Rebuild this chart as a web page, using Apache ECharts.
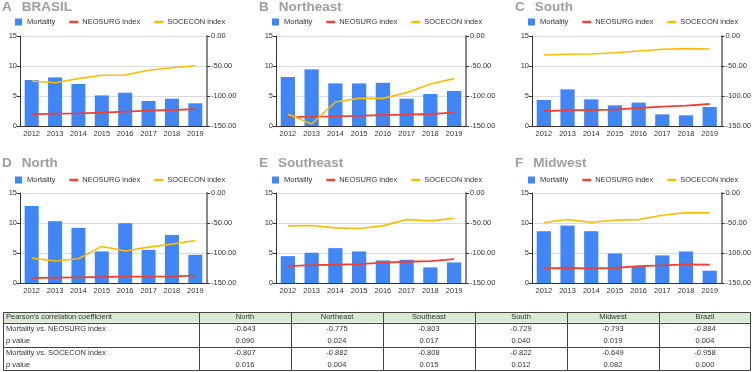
<!DOCTYPE html>
<html>
<head>
<meta charset="utf-8">
<script src="https://cdn.jsdelivr.net/npm/echarts@6/dist/echarts.min.js"></script>
<style>
html,body{margin:0;padding:0;background:#fff;}
#chart{width:754px;height:372px;}
</style>
</head>
<body>
<div id="chart"></div>
<script>
const years = ['2012', '2013', '2014', '2015', '2016', '2017', '2018', '2019'];
const panelLetters = ['A', 'B', 'C', 'D', 'E', 'F'];
const panelNames = ['BRASIL', 'Northeast', 'South', 'North', 'Southeast', 'Midwest'];
const seriesNames = ['Mortality', 'NEOSURG index', 'SOCECON index'];

const mortalityBrasil = [7.67, 8.10, 7.00, 5.10, 5.55, 4.17, 4.55, 3.78];
const neosurgBrasil = [-130.5, -129.4, -129.0, -127.8, -126.0, -124.4, -123.3, -122.0];
const soceconBrasil = [-75.0, -77.8, -71.0, -65.5, -65.0, -57.0, -53.0, -49.5];

const mortalityNortheast = [8.17, 9.44, 7.10, 7.10, 7.20, 4.55, 5.33, 5.83];
const neosurgNortheast = [-135.5, -134.4, -134.0, -133.0, -131.7, -131.0, -130.0, -127.8];
const soceconNortheast = [-130.5, -146.7, -110.0, -104.0, -104.0, -94.4, -80.0, -71.0];

const mortalitySouth = [4.33, 6.10, 4.44, 3.44, 3.90, 1.94, 1.78, 3.17];
const neosurgSouth = [-125.0, -124.0, -123.3, -122.8, -120.0, -117.8, -116.0, -113.3];
const soceconSouth = [-31.7, -30.5, -30.0, -27.8, -25.0, -22.2, -21.0, -21.7];

const mortalityNorth = [12.84, 10.30, 9.19, 5.26, 9.96, 5.53, 8.02, 4.70];
const neosurgNorth = [-141.7, -141.0, -140.5, -140.0, -139.4, -139.4, -138.8, -137.8];
const soceconNorth = [-108.5, -113.4, -109.6, -89.0, -96.8, -90.2, -85.2, -79.1];

const mortalitySoutheast = [4.48, 5.04, 5.81, 5.26, 3.76, 3.87, 2.60, 3.43];
const neosurgSoutheast = [-121.8, -120.1, -119.6, -118.5, -116.2, -114.6, -113.5, -110.2];
const soceconSoutheast = [-54.8, -54.2, -58.1, -59.2, -54.8, -44.3, -46.5, -42.1];

const mortalityMidwest = [8.63, 9.57, 8.63, 4.93, 2.82, 4.60, 5.26, 2.05];
const neosurgMidwest = [-125.6, -125.0, -125.6, -125.0, -121.8, -120.7, -119.0, -119.6];
const soceconMidwest = [-49.3, -44.3, -48.7, -45.4, -44.3, -37.1, -32.7, -33.2];

const leftTicks = [0, 5, 10, 15];
const rightTicks = [-150, -100, -50, 0];

const tableHeader = "Pearson's correlation coefficient";
const tableColumns = ['North', 'Northeast', 'Southeast', 'South', 'Midwest', 'Brazil'];
const rowLabels = ['Mortality vs. NEOSURG index', 'p value', 'Mortality vs. SOCECON index', 'p value'];
const rNeosurg = ['-0.643', '-0.775', '-0.803', '-0.729', '-0.793', '-0.884'];
const pNeosurg = ['0.090', '0.024', '0.017', '0.040', '0.019', '0.004'];
const rSocecon = ['-0.807', '-0.882', '-0.808', '-0.822', '-0.649', '-0.958'];
const pSocecon = ['0.016', '0.004', '0.015', '0.012', '0.082', '0.000'];

const mortality = [mortalityBrasil, mortalityNortheast, mortalitySouth, mortalityNorth, mortalitySoutheast, mortalityMidwest];
const neosurg = [neosurgBrasil, neosurgNortheast, neosurgSouth, neosurgNorth, neosurgSoutheast, neosurgMidwest];
const socecon = [soceconBrasil, soceconNortheast, soceconSouth, soceconNorth, soceconSoutheast, soceconMidwest];
const tableRows = [rNeosurg, pNeosurg, rSocecon, pSocecon];

// layout
const FONT = "'Liberation Sans', Arial, sans-serif";
const gridLefts = [20, 276, 532];
const gridWidths = [187, 190, 190];
const gridTops = [36, 193];
const gridHeight = 90;
const titleLefts = [2, 259, 515];
const titleTops = [0, 156];
const legendLefts = [15, 272, 528];
const legendTops = [18, 176];
const BLUE = '#4285f4', RED = '#ea4335', YELLOW = '#fbbc04';

const option = {
  animation: false,
  backgroundColor: '#fff',
  textStyle: { fontFamily: FONT },
  title: [], legend: [], grid: [], xAxis: [], yAxis: [], series: [],
  graphic: []
};

for (let i = 0; i < 6; i++) {
  const row = Math.floor(i / 3), col = i % 3;
  option.title.push({
    left: titleLefts[col], top: titleTops[row], padding: 0,
    text: '{l|' + panelLetters[i] + '}{n|' + panelNames[i] + '}',
    textStyle: {
      rich: {
        l: { fontSize: 13.5, fontWeight: 'bold', color: '#9e9e9e', fontFamily: FONT, padding: [0, 10, 0, 0] },
        n: { fontSize: 13.5, fontWeight: 'bold', color: '#9e9e9e', fontFamily: FONT }
      }
    }
  });
  option.legend.push({
    left: legendLefts[col], top: legendTops[row], padding: 0,
    itemWidth: 9, itemHeight: 7, itemGap: 14,
    selectedMode: false,
    textStyle: { fontSize: 7.5, color: '#333', fontFamily: FONT, padding: [0, 0, 0, -1] },
    data: [
      { name: seriesNames[0], icon: 'path://M0,0h7v7h-7z', itemStyle: { color: BLUE } },
      { name: seriesNames[1], icon: 'path://M0,0h9v2.5h-9z', itemStyle: { color: RED } },
      { name: seriesNames[2], icon: 'path://M0,0h9v2.5h-9z', itemStyle: { color: YELLOW } }
    ]
  });
  option.grid.push({ left: gridLefts[col], top: gridTops[row], width: gridWidths[col], height: gridHeight });
  option.xAxis.push({
    type: 'category', gridIndex: i, data: years, boundaryGap: true,
    axisLine: { lineStyle: { color: '#333', width: 1 } },
    axisTick: { show: false },
    axisLabel: { fontSize: 7.5, color: '#333', margin: 4, fontFamily: FONT, interval: 0 },
    splitLine: { show: false }
  });
  option.yAxis.push({
    type: 'value', gridIndex: i, min: leftTicks[0], max: leftTicks[leftTicks.length - 1], interval: 5,
    axisLine: { show: true, lineStyle: { color: '#333', width: 1 } },
    axisTick: { show: true, length: 3, lineStyle: { color: '#333' } },
    axisLabel: { fontSize: 7.5, color: '#333', margin: 3, fontFamily: FONT },
    splitLine: { show: true, lineStyle: { color: '#dcdcdc', width: 1 } }
  });
  option.yAxis.push({
    type: 'value', gridIndex: i, position: 'right',
    min: rightTicks[0], max: rightTicks[rightTicks.length - 1], interval: 50,
    axisLine: { show: true, lineStyle: { color: '#888', width: 2 } },
    axisTick: { show: true, length: 3, lineStyle: { color: '#333' } },
    axisLabel: { fontSize: 7.5, color: '#333', margin: 4, fontFamily: FONT, formatter: v => v.toFixed(2) },
    splitLine: { show: false }
  });
  option.series.push({
    name: seriesNames[0], type: 'bar', xAxisIndex: i, yAxisIndex: 2 * i,
    data: mortality[i], barWidth: '60%', itemStyle: { color: BLUE }
  });
  option.series.push({
    name: seriesNames[1], type: 'line', xAxisIndex: i, yAxisIndex: 2 * i + 1,
    data: neosurg[i], symbol: 'none', lineStyle: { color: RED, width: 1.8 }, itemStyle: { color: RED }
  });
  option.series.push({
    name: seriesNames[2], type: 'line', xAxisIndex: i, yAxisIndex: 2 * i + 1,
    data: socecon[i], symbol: 'none', lineStyle: { color: YELLOW, width: 1.6 }, itemStyle: { color: YELLOW }
  });
}

// table
const tLeft = 3, tRight = 751, firstColRight = 199;
const rowEdges = [312, 322.5, 335, 347, 359, 371];
const colW = (tRight - firstColRight) / tableColumns.length;
const border = '#444';
const g = option.graphic;
g.push({ type: 'rect', shape: { x: tLeft, y: rowEdges[0], width: tRight - tLeft, height: rowEdges[1] - rowEdges[0] }, style: { fill: '#d9ead3' }, silent: true });
g.push({ type: 'rect', shape: { x: tLeft + 0.5, y: rowEdges[0] + 0.5, width: tRight - tLeft - 1, height: rowEdges[5] - rowEdges[0] - 1 }, style: { fill: 'none', stroke: border, lineWidth: 1 }, silent: true });
[1, 3].forEach(k => {
  g.push({ type: 'line', shape: { x1: tLeft, y1: Math.round(rowEdges[k]) + 0.5, x2: tRight, y2: Math.round(rowEdges[k]) + 0.5 }, style: { stroke: border, lineWidth: 1 }, silent: true });
});
for (let c = 0; c < tableColumns.length; c++) {
  const x = Math.round(firstColRight + c * colW) + 0.5;
  g.push({ type: 'line', shape: { x1: x, y1: rowEdges[0], x2: x, y2: rowEdges[5] }, style: { stroke: border, lineWidth: 1 }, silent: true });
}
const txt = (x, y, s, align) => ({
  type: 'text', x: x, y: y, silent: true,
  style: { text: s, fill: '#333', font: '7.5px ' + FONT, align: align, verticalAlign: 'middle' }
});
g.push(txt(6, (rowEdges[0] + rowEdges[1]) / 2, tableHeader, 'left'));
tableColumns.forEach((name, c) => {
  g.push(txt(firstColRight + (c + 0.5) * colW, (rowEdges[0] + rowEdges[1]) / 2, name, 'center'));
});
rowLabels.forEach((lab, r) => {
  const y = (rowEdges[r + 1] + rowEdges[r + 2]) / 2;
  if (lab.indexOf('p ') === 0) {
    g.push({
      type: 'text', x: 6, y: y, silent: true,
      style: {
        text: '{i|p}{t| value}', align: 'left', verticalAlign: 'middle',
        rich: { i: { fontStyle: 'italic', fontSize: 7.5, fontFamily: FONT, fill: '#333' }, t: { fontSize: 7.5, fontFamily: FONT, fill: '#333' } }
      }
    });
  } else {
    g.push(txt(6, y, lab, 'left'));
  }
  tableRows[r].forEach((v, c) => {
    g.push(txt(firstColRight + (c + 0.5) * colW, y, v, 'center'));
  });
});

const chart = echarts.init(document.getElementById('chart'), null, { renderer: 'canvas' });
chart.setOption(option);
</script>
</body>
</html>
